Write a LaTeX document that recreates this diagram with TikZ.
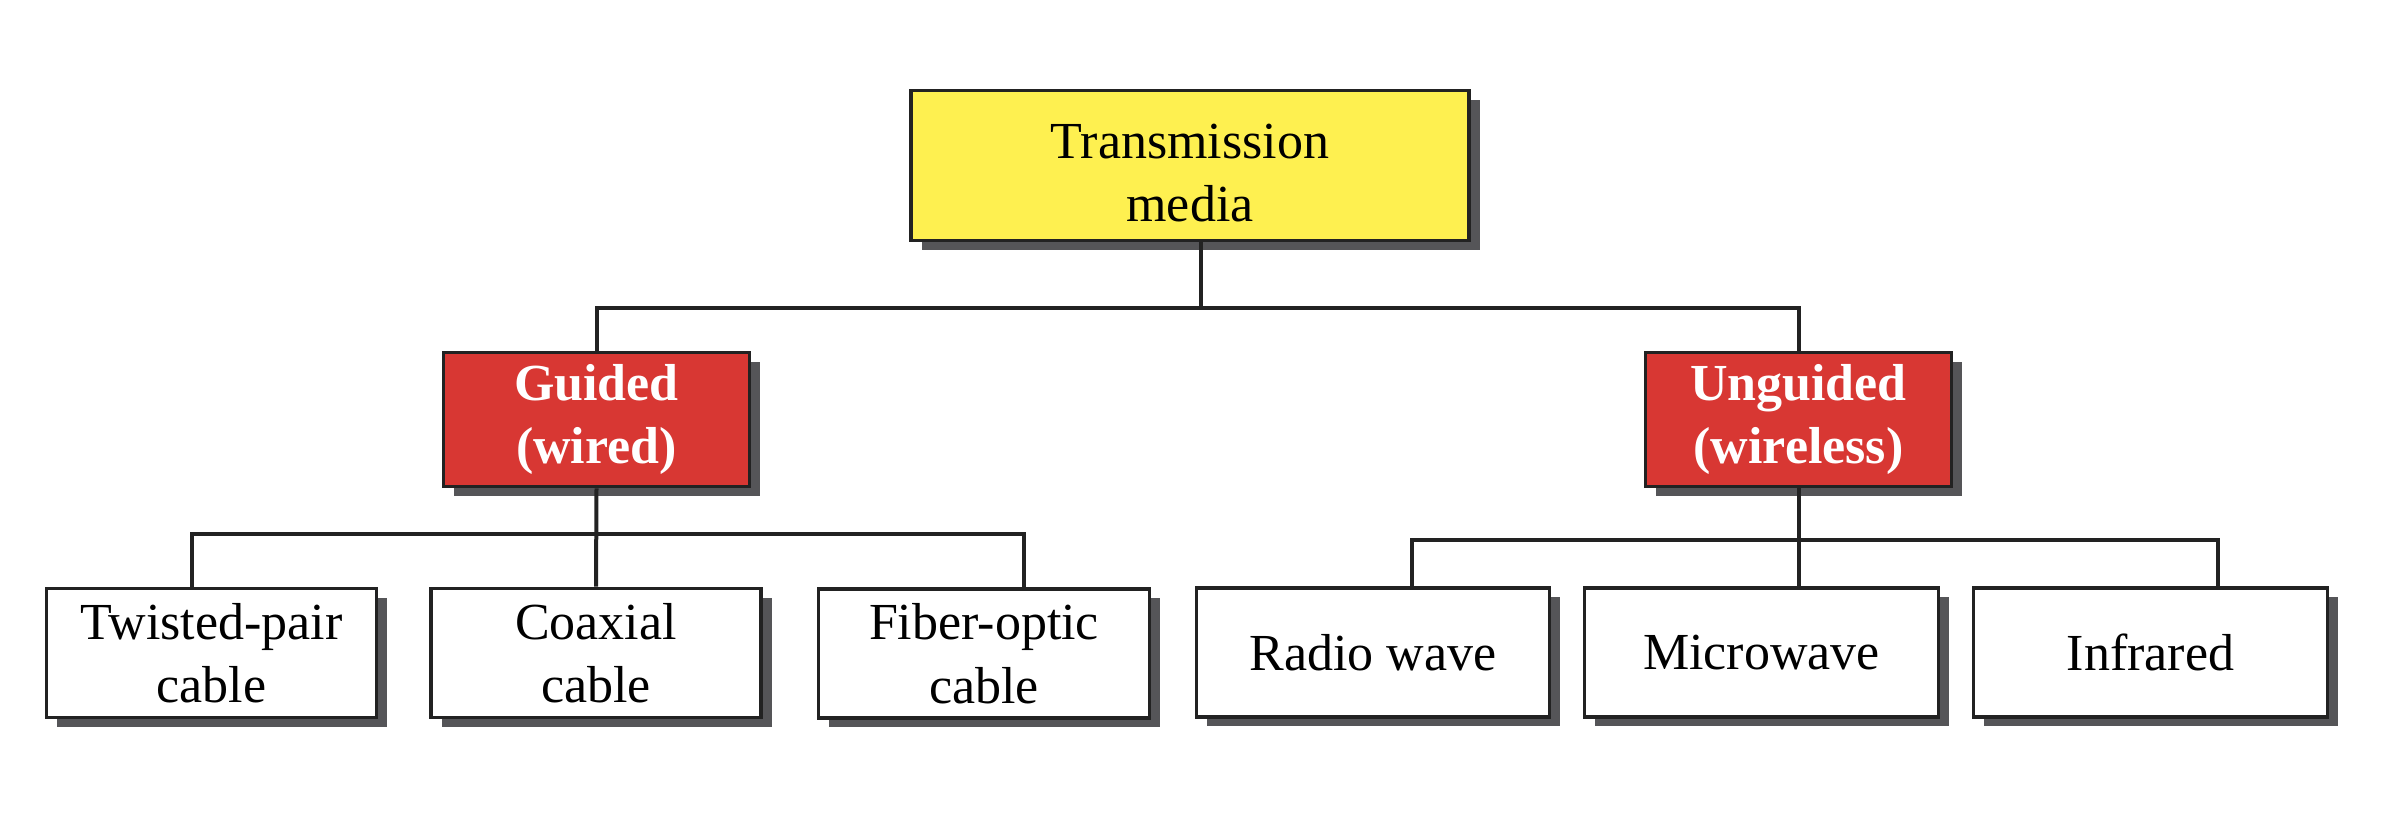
\documentclass[tikz,border=0pt]{standalone}
\usepackage{fontspec}
\setmainfont{Liberation Serif}
\usetikzlibrary{shadows}
\definecolor{boxyellow}{HTML}{FEF050}
\definecolor{boxred}{HTML}{D83733}
\definecolor{shadowgray}{HTML}{555558}
\definecolor{linecol}{HTML}{222222}
\tikzset{
  base/.style={draw=linecol, line width=0.9pt, rectangle, align=center, inner sep=0pt,
    font=\fontsize{13}{15.9}\selectfont,
    drop shadow={shadow xshift=2.7pt, shadow yshift=-2.3pt, fill=shadowgray, opacity=1}},
  topbox/.style={base, fill=boxyellow, minimum width=139.5pt, minimum height=37.5pt},
  midbox/.style={base, fill=boxred, text=white, font=\fontsize{13}{15.9}\selectfont\bfseries,
    minimum width=76.5pt, minimum height=33.5pt},
  leafbox/.style={base, fill=white, minimum height=32.3pt},
  conn/.style={draw=linecol, line width=1pt}
}
\begin{document}
\begin{tikzpicture}[x=0.25pt, y=-0.25pt]
\useasboundingbox (0,0) rectangle (2386,838);
\node[topbox] (top) at (1190,165.5) {\rule{0pt}{12.4pt}Transmission\\media};
\node[midbox] (guided) at (596.5,419.5) {Guided\\(wired)};
\node[midbox] (unguided) at (1798.5,419.5) {Unguided\\(wireless)};
\node[leafbox, minimum width=82.5pt] (twisted) at (211.5,653) {Twisted-pair\\cable};
\node[leafbox, minimum width=82.5pt] (coax) at (596,653) {Coaxial\\cable};
\node[leafbox, minimum width=82.8pt] (fiber) at (984,653.5) {Fiber-optic\\cable};
\node[leafbox, minimum width=88.3pt] (radio) at (1373,652.5) {Radio wave};
\node[leafbox, minimum width=88.5pt] (micro) at (1761.5,652.5) {Microwave};
\node[leafbox, minimum width=88.5pt] (infra) at (2150.5,652.5) {Infrared};
% junctions
\coordinate (tb) at (1201,308);
\coordinate (lb1) at (192,534);
\coordinate (lb2) at (1024,534);
\coordinate (rb1) at (1412,540);
\coordinate (rb2) at (2218,540);
% connectors
\draw[conn] (top.south -| tb) -- (tb);
\draw[conn] (guided.north) |- (tb) -| (unguided.north);
\draw[conn] (guided.south) -- (coax.north);
\draw[conn] (twisted.north -| lb1) -- (lb1) -- (lb2) -- (fiber.north -| lb2);
\draw[conn] (unguided.south) -- (unguided.south |- micro.north);
\draw[conn] (radio.north -| rb1) -- (rb1) -- (rb2) -- (infra.north -| rb2);
\end{tikzpicture}
\end{document}
